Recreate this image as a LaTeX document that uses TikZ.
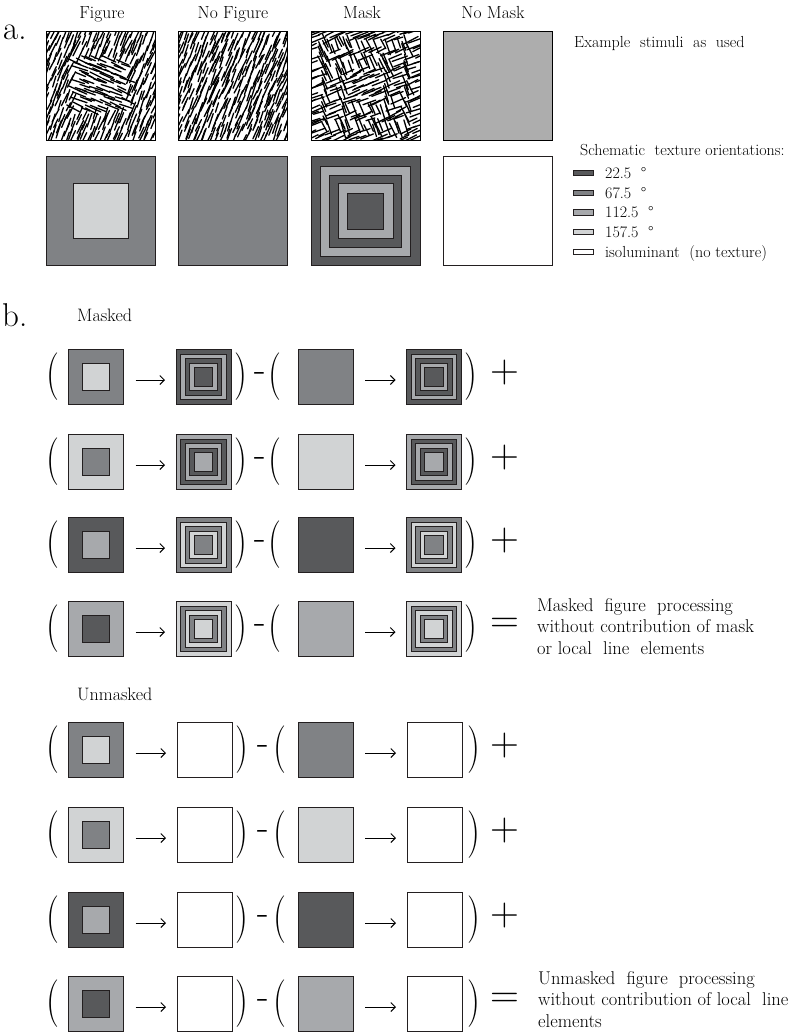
\documentclass[tikz,border=0pt]{standalone}
\usepackage{fontspec}
\usepackage{graphicx}
\usetikzlibrary{arrows.meta}
\definecolor{Da}{HTML}{58595B}
\definecolor{Db}{HTML}{808285}
\definecolor{Dc}{HTML}{A7A9AC}
\definecolor{Dd}{HTML}{D1D3D4}
\definecolor{NM}{HTML}{ADADAD}
\definecolor{edge}{HTML}{231F20}
\newcommand\drawtex[3]{%
  \begin{scope}
  \clip (#1-54.5,#2-54.5) rectangle (#1+54.5,#2+54.5);
  \foreach \i in {0,...,17}{\foreach \j in {0,...,17}{%
    \pgfmathsetmacro\px{#1-56+(\i+0.5)*6.2+(rnd-0.5)*5}%
    \pgfmathsetmacro\py{#2-56+(\j+0.5)*6.2+(rnd-0.5)*5}%
    \pgfmathsetmacro\dd{max(abs(\px-#1),abs(\py-#2))}%
    \pgfmathsetmacro\ang{#3+(rnd-0.5)*12}%
    \pgfmathsetmacro\hl{4.5+rnd*4}%
    \pgfmathsetmacro\ddx{\hl*cos(\ang)}%
    \pgfmathsetmacro\ddy{\hl*sin(\ang)}%
    \draw[texline] (\px+\ddx,\py-\ddy) -- (\px-\ddx,\py+\ddy);
  }}
  \end{scope}}
\begin{document}
\begin{tikzpicture}[x=1pt,y=-1pt,
  texline/.style={line width=1.3pt, line cap=round, black},
  tsq/.style={draw=black, line width=0.8pt, minimum size=109pt, inner sep=0pt, outer sep=0pt},
  bsq/.style={draw=edge, line width=0.75pt, minimum size=#1, inner sep=0pt, outer sep=0pt},
  sw/.style={draw=edge, line width=0.7pt, minimum width=20pt, minimum height=5.5pt, inner sep=0pt},
  ttl/.style={font=\fontsize{17.5}{20}\selectfont, inner sep=0pt, anchor=base},
  lab/.style={font=\fontsize{18}{20}\selectfont, inner sep=0pt, anchor=base west},
  big/.style={font=\fontsize{33}{35}\selectfont, inner sep=0pt, anchor=base west},
  leg/.style={font=\fontsize{16}{18}\selectfont, inner sep=0pt, anchor=base west},
  note/.style={font=\fontsize{18.5}{21.5}\selectfont, inner sep=0pt, anchor=north west, align=left},
  par/.style={font=\fontsize{28}{28}\selectfont, inner sep=0pt},
  op/.style={font=\fontsize{40}{40}\selectfont, inner sep=0pt},
  mn/.style={font=\fontsize{38}{38}\selectfont, inner sep=0pt},
  arr/.style={-{Straight Barb[length=4.5pt,width=9pt]}, line width=1pt, shorten <=12pt, shorten >=11pt}
]
\useasboundingbox (0,0) rectangle (810,1036);
\pgfmathsetseed{11}
% ---------------- part a ----------------
\node[big] (la) at (3,39) {a.};
\node[ttl] (t1) at (102,18) {Figure};
\node[ttl] (t2) at (233,18) {No Figure};
\node[ttl] (t3) at (362,18) {Mask};
\node[ttl] (t4) at (493,18) {No Mask};
% texture stimuli
\drawtex{100.5}{85.5}{ifthenelse(\dd<27.5,157.5,67.5)}
\drawtex{233}{85.5}{67.5}
\drawtex{365.5}{85.5}{ifthenelse(\dd<18,22.5,ifthenelse(\dd<27.5,112.5,ifthenelse(\dd<36,22.5,ifthenelse(\dd<45,112.5,22.5))))}
\node[tsq] (xfig) at (100.5,85.5) {};
\node[tsq] (xnof) at (233,85.5) {};
\node[tsq] (xmask) at (365.5,85.5) {};
\node[tsq, fill=NM] (xnom) at (497.5,85.5) {};
% schematic
\node[bsq=109pt, fill=Db] (sfig) at (100.5,211) {};
\node[bsq=55pt, fill=Dd] (sfigc) at (sfig.center) {};
\node[bsq=109pt, fill=Db] (snof) at (233,211) {};
\node[bsq=109pt, fill=Da] (smask) at (365.5,211) {};
\node[bsq=90pt, fill=Dc] (smask1) at (smask.center) {};
\node[bsq=72pt, fill=Da] (smask2) at (smask.center) {};
\node[bsq=55pt, fill=Dc] (smask3) at (smask.center) {};
\node[bsq=36pt, fill=Da] (smask4) at (smask.center) {};
\node[bsq=109pt, fill=white] (snom) at (497.5,211) {};
% legend
\node[leg] (ex) at (574,47) {Example\ \ stimuli\ \ as\ \ used};
\node[leg] (sch) at (580,155) {Schematic\ \ texture\ orientations:};
\node[sw, fill=Da] (s1) at (583,173) {};
\node[sw, fill=Db] (s2) at (583,193) {};
\node[sw, fill=Dc] (s3) at (583,212.5) {};
\node[sw, fill=Dd] (s4) at (583,232) {};
\node[sw, fill=white] (s5) at (583,252) {};
\node[leg] (l1) at (605,178) {22.5\ \ °};
\node[leg] (l2) at (605,198) {67.5\ \ °};
\node[leg] (l3) at (605,217.5) {112.5\ \ °};
\node[leg] (l4) at (605,237) {157.5\ \ °};
\node[leg] (l5) at (605,257) {isoluminant\ \ (no texture)};
% ---------------- part b ----------------
\node[big] (lb) at (2,326) {b.};
\node[lab] (masked) at (77,321) {Masked};
\node[lab] (unmasked) at (77,700) {Unmasked};
\foreach \r/\y/\fb/\fc/\ma/\mb/\sy in {1/377/Db/Dd/Da/Dc/+,2/462/Dd/Db/Dc/Da/+,3/545/Da/Dc/Db/Dd/+,4/629/Dc/Da/Dd/Db/=}{
  \node[par] (pa\r) at (53,\y) {\scalebox{1.3}[1.7]{(}};
  \node[bsq=55pt, fill=\fb] (f\r) at (96,\y) {};
  \node[bsq=27.5pt, fill=\fc] (fc\r) at (f\r.center) {};
  \node[bsq=55pt, fill=\ma] (m\r) at (203.5,\y) {};
  \node[bsq=45.5pt, fill=\mb] (ma\r) at (m\r.center) {};
  \node[bsq=36.5pt, fill=\ma] (mb\r) at (m\r.center) {};
  \node[bsq=27.5pt, fill=\mb] (mc\r) at (m\r.center) {};
  \node[bsq=18.5pt, fill=\ma] (md\r) at (m\r.center) {};
  \node[par] (pb\r) at (241,\y) {\scalebox{1.3}[1.7]{)}};
  \node[mn] (mi\r) at (260,\y) {-};
  \node[par] (pc\r) at (275,\y) {\scalebox{1.3}[1.7]{(}};
  \node[bsq=55pt, fill=\fb] (n\r) at (325.5,\y) {};
  \node[bsq=55pt, fill=\ma] (k\r) at (434,\y) {};
  \node[bsq=45.5pt, fill=\mb] (ka\r) at (k\r.center) {};
  \node[bsq=36.5pt, fill=\ma] (kb\r) at (k\r.center) {};
  \node[bsq=27.5pt, fill=\mb] (kc\r) at (k\r.center) {};
  \node[bsq=18.5pt, fill=\ma] (kd\r) at (k\r.center) {};
  \node[par] (pd\r) at (471,\y) {\scalebox{1.3}[1.7]{)}};
  \node[op] (op\r) at (505,\y-4) {\sy};
  \draw[arr] ([yshift=-3pt]f\r.east) -- ([yshift=-3pt]m\r.west);
  \draw[arr] ([yshift=-3pt]n\r.east) -- ([yshift=-3pt]k\r.west);
}
\foreach \r/\y/\fb/\fc/\sy in {5/750/Db/Dd/+,6/835/Dd/Db/+,7/920/Da/Dc/+,8/1004/Dc/Da/=}{
  \node[par] (pa\r) at (53,\y) {\scalebox{1.3}[1.7]{(}};
  \node[bsq=55pt, fill=\fb] (f\r) at (96,\y) {};
  \node[bsq=27.5pt, fill=\fc] (fc\r) at (f\r.center) {};
  \node[bsq=55pt, fill=white] (m\r) at (204.5,\y) {};
  \node[par] (pb\r) at (242,\y) {\scalebox{1.3}[1.7]{)}};
  \node[mn] (mi\r) at (263,\y) {-};
  \node[par] (pc\r) at (280,\y) {\scalebox{1.3}[1.7]{(}};
  \node[bsq=55pt, fill=\fb] (n\r) at (325.5,\y) {};
  \node[bsq=55pt, fill=white] (k\r) at (434.5,\y) {};
  \node[par] (pd\r) at (474,\y) {\scalebox{1.3}[1.7]{)}};
  \node[op] (op\r) at (505,\y-4) {\sy};
  \draw[arr] ([yshift=-3pt]f\r.east) -- ([yshift=-3pt]m\r.west);
  \draw[arr] ([yshift=-3pt]n\r.east) -- ([yshift=-3pt]k\r.west);
}
\node[note] (nm) at (537,598) {Masked\ \ figure\ \ processing\\without contribution of mask\\or local\ \ line\ \ elements};
\node[note] (nu) at (538,971) {Unmasked\ \ figure\ \ processing\\without contribution of local\ \ line\\elements};
\end{tikzpicture}
\end{document}
